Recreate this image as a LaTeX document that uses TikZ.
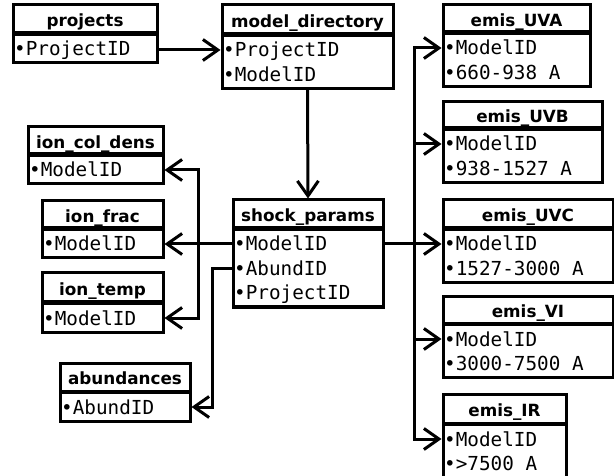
\documentclass[tikz,border=0pt]{standalone}
\usepackage{fontspec}
\setmainfont{DejaVu Sans}
\newfontfamily\monof{DejaVu Sans Mono}
\usetikzlibrary{arrows.meta}
\tikzset{
 ttl/.style={draw, line width=3pt, inner sep=0pt, fill=white,
   font=\fontsize{16.8}{20}\selectfont\bfseries, text height=15.5pt, text depth=0pt},
 bodybox/.style={draw, line width=3pt, inner sep=0pt, anchor=north, fill=white},
 fld/.style={anchor=west, inner xsep=1pt, inner ysep=0pt,
   font=\monof\fontsize{19.3}{23}\selectfont, text height=14pt, text depth=0pt},
 conn/.style={line width=3pt},
 fk/.style={conn, -{Straight Barb[length=15pt,width=21pt]}},
}
% #1 name, #2 left, #3 right, #4 top, #5 divider, #6 title, #7 number of rows
\newcommand\mktbl[7]{%
 \node[ttl, minimum width={#3-#2}, minimum height={#5-#4}] (#1) at ({(#2+#3)/2},{(#4+#5)/2}) {#6};
 \node[bodybox, minimum width={#3-#2}, minimum height={28.5+24.5*(#7-1)}] (#1-b) at ({(#2+#3)/2},#5) {};
}
% #1 name, #2 left, #3 divider, #4 row index (0-based), #5 text
\newcommand\mkrow[5]{%
 \node[fld] (#1) at (#2,{#3+16+24.5*#4}) {#5};
}
\begin{document}
\begin{tikzpicture}[x=1pt,y=-1pt]
\useasboundingbox (0,0) rectangle (614,476);
% tables
\mktbl{projects}{13}{157}{5}{33}{projects}{1}
\mkrow{projects-r1}{13}{33}{0}{•ProjectID}

\mktbl{md}{222}{393}{5}{34}{model\_directory}{2}
\mkrow{md-r1}{222}{34}{0}{•ProjectID}
\mkrow{md-r2}{222}{34}{1}{•ModelID}

\mktbl{icd}{28}{163}{127}{154}{ion\_col\_dens}{1}
\mkrow{icd-r1}{28}{154}{0}{•ModelID}

\mktbl{ifr}{42}{163}{201}{228}{ion\_frac}{1}
\mkrow{ifr-r1}{42}{228}{0}{•ModelID}

\mktbl{it}{42}{163}{273}{302}{ion\_temp}{1}
\mkrow{it-r1}{42}{302}{0}{•ModelID}

\mktbl{ab}{60}{190}{363}{391}{abundances}{1}
\mkrow{ab-r1}{60}{391}{0}{•AbundID}

\mktbl{sp}{233}{383}{200}{228}{shock\_params}{3}
\mkrow{sp-r1}{233}{228}{0}{•ModelID}
\mkrow{sp-r2}{233}{228}{1}{•AbundID}
\mkrow{sp-r3}{233}{228}{2}{•ProjectID}

\mktbl{uva}{443}{590}{5}{32}{emis\_UVA}{2}
\mkrow{uva-r1}{443}{32}{0}{•ModelID}
\mkrow{uva-r2}{443}{32}{1}{•660-938 A}

\mktbl{uvb}{443}{602}{102}{128}{emis\_UVB}{2}
\mkrow{uvb-r1}{443}{128}{0}{•ModelID}
\mkrow{uvb-r2}{443}{128}{1}{•938-1527 A}

\mktbl{uvc}{443}{613}{200}{228}{emis\_UVC}{2}
\mkrow{uvc-r1}{443}{228}{0}{•ModelID}
\mkrow{uvc-r2}{443}{228}{1}{•1527-3000 A}

\mktbl{vi}{443}{613}{297}{323}{emis\_VI}{2}
\mkrow{vi-r1}{443}{323}{0}{•ModelID}
\mkrow{vi-r2}{443}{323}{1}{•3000-7500 A}

\mktbl{ir}{443}{566}{394}{423}{emis\_IR}{2}
\mkrow{ir-r1}{443}{423}{0}{•ModelID}
\mkrow{ir-r2}{443}{423}{1}{•>7500 A}

% connectors
\draw[fk] (projects-b.east |- md-r1) -- (md-b.west |- md-r1);
\draw[fk] (md-b.south) -- (sp.north);

\draw[fk] (sp-b.west |- sp-r1) -- (ifr-b.east |- ifr-r1);
\coordinate (jl) at (198,244);
\draw[fk] (jl) |- (icd-b.east |- icd-r1);
\draw[fk] (jl) |- (it-b.east |- it-r1);

\coordinate (ja) at (212,0);
\draw[fk] (sp-b.west |- sp-r2) -| (ja |- ab-r1) -- (ab-b.east |- ab-r1);

\coordinate (jr) at (414,244);
\draw[conn] (sp-b.east |- sp-r1) -- (jr);
\draw[fk] (jr) |- (uva-b.west |- uva-r1);
\draw[fk] (jr) |- (uvb-b.west |- uvb-r1);
\draw[fk] (jr) |- (uvc-b.west |- uvc-r1);
\draw[fk] (jr) |- (vi-b.west |- vi-r1);
\draw[fk] (jr) |- (ir-b.west |- ir-r1);
\end{tikzpicture}
\end{document}
